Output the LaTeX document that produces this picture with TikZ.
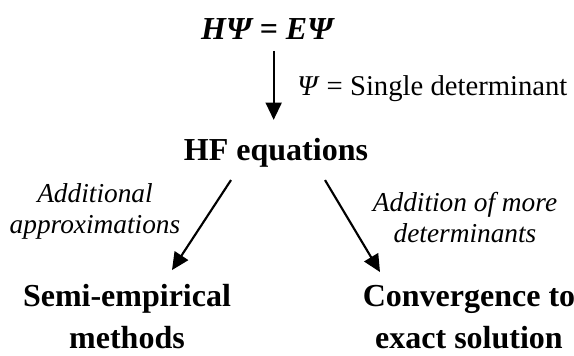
\documentclass[tikz,border=0pt]{standalone}
\usepackage{fontspec}
\setmainfont{Liberation Serif}
\usetikzlibrary{positioning,arrows.meta}

\begin{document}
\begin{tikzpicture}[x=0.75pt,y=0.75pt,
    box/.style={inner sep=0pt,align=center,font=\fontsize{24}{31.5}\selectfont\bfseries},
    lbl/.style={inner sep=0pt,align=center,font=\fontsize{20.5}{23.25}\selectfont\itshape},
    arr/.style={line width=1.6pt,-{Triangle[length=13pt,width=12pt]}}]
    \useasboundingbox (0,0) rectangle (574,356);

    \node[box,anchor=base] (schr) at (267,316) {\itshape HΨ = EΨ};
    \node[box,anchor=base] (hf) at (276,195) {HF equations};
    \node[box] (semi) at (127,39) {Semi-empirical\\methods};
    \node[box] (conv) at (469,39) {Convergence to\\exact solution};

    \node[anchor=west,inner sep=0pt,font=\fontsize{21.5}{25}\selectfont] (single) at (297,267) {\textit{Ψ} = Single determinant};
    \node[lbl] (addl) at (95,144.5) {Additional\\approximations};
    \node[lbl] (addm) at (465,138.5) {Addition of more\\determinants};

    % arrows
    \draw[arr] ([xshift=5,yshift=-8]schr.south) -- ([xshift=5,yshift=14]schr.south |- hf.north);
    \draw[arr] ([shift={(-45,-12)}]hf.south) -- ([shift={(-104,-102)}]hf.south);
    \draw[arr] ([shift={(49,-12)}]hf.south) -- ([shift={(104,-104)}]hf.south);
\end{tikzpicture}
\end{document}
